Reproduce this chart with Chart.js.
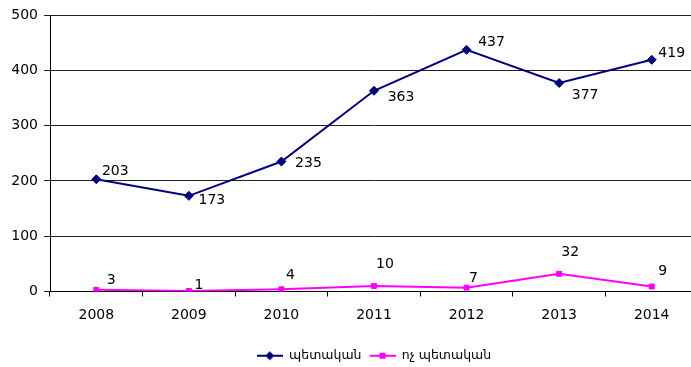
<!DOCTYPE html>
<html>
<head>
<meta charset="utf-8">
<script src="https://cdn.jsdelivr.net/npm/chart.js@4.4.1/dist/chart.umd.min.js"></script>
<style>
  html, body { margin: 0; padding: 0; background: #fff; overflow: hidden; }
  #wrap { width: 691px; height: 367px; overflow: hidden; position: relative; }
  #c { position: absolute; left: 0; top: 0; display: block; }
</style>
</head>
<body>
<!-- the plot runs on a few pixels past the right edge of the view -->
<div id="wrap"><canvas id="c" width="698" height="372"></canvas></div>
<script>
// Years on the horizontal axis
const years = ['2008', '2009', '2010', '2011', '2012', '2013', '2014'];
// Series names and values
const stateName = 'պետական';
const stateValues = [203, 173, 235, 363, 437, 377, 419];
const privateName = 'ոչ պետական';
const privateValues = [3, 1, 4, 10, 7, 32, 9];
// Vertical axis ticks
const yTicks = [0, 100, 200, 300, 400, 500];

// Where each value label sits relative to its point (dx, dy in px)
const stateLabelShift = [[19, -8], [23, 5], [27, 2], [27, 7], [25, -7], [26, 12], [20, -6]];
const privateLabelShift = [[15, -9], [10, -6], [9, -14], [11, -22], [7, -9], [11, -21], [11, -15]];

const FONT = '"DejaVu Sans", "Noto Sans", sans-serif';
const NAVY = '#000080';
const MAGENTA = '#FF00FF';

// Legend swatch: short line with the series marker in the middle
function swatch(color, shape) {
  const cv = document.createElement('canvas');
  cv.width = 26; cv.height = 10;
  const g = cv.getContext('2d');
  g.strokeStyle = color; g.lineWidth = 2;
  g.beginPath(); g.moveTo(0, 5); g.lineTo(26, 5); g.stroke();
  g.fillStyle = color;
  g.beginPath();
  if (shape === 'diamond') {
    g.moveTo(13, 0.5); g.lineTo(17.5, 5); g.lineTo(13, 9.5); g.lineTo(8.5, 5); g.closePath();
  } else {
    g.rect(10, 2, 6, 6);
  }
  g.fill();
  return cv;
}
const swatches = [swatch(NAVY, 'diamond'), swatch(MAGENTA, 'square')];

// Value labels next to each point
const valueLabels = {
  id: 'valueLabels',
  afterDatasetsDraw(chart) {
    const ctx = chart.ctx;
    const shifts = [stateLabelShift, privateLabelShift];
    ctx.save();
    ctx.font = '14px ' + FONT;
    ctx.fillStyle = '#000';
    ctx.textAlign = 'center';
    ctx.textBaseline = 'middle';
    chart.data.datasets.forEach((ds, di) => {
      const meta = chart.getDatasetMeta(di);
      meta.data.forEach((pt, i) => {
        const s = shifts[di][i];
        ctx.fillText(String(ds.data[i]), pt.x + s[0], pt.y + s[1]);
      });
    });
    ctx.restore();
  }
};

new Chart(document.getElementById('c'), {
  type: 'line',
  data: {
    labels: years,
    datasets: [
      {
        label: stateName,
        data: stateValues,
        borderColor: NAVY,
        backgroundColor: NAVY,
        borderWidth: 2,
        pointStyle: 'rectRot',
        pointRadius: 4.5,
        pointBorderWidth: 1,
        tension: 0
      },
      {
        label: privateName,
        data: privateValues,
        borderColor: MAGENTA,
        backgroundColor: MAGENTA,
        borderWidth: 2,
        pointStyle: 'rect',
        pointRadius: 3.5,
        pointBorderWidth: 1,
        tension: 0
      }
    ]
  },
  options: {
    responsive: false,
    animation: false,
    layout: { autoPadding: false, padding: { top: 15, right: 0, bottom: 0, left: 0 } },
    plugins: {
      tooltip: { enabled: false },
      legend: {
        position: 'bottom',
        fullSize: false,
        labels: {
          usePointStyle: true,
          pointStyleWidth: 26,
          boxHeight: 10,
          padding: 8,
          color: '#000',
          font: { family: FONT, size: 12.5 },
          generateLabels(chart) {
            const items = Chart.defaults.plugins.legend.labels.generateLabels(chart);
            items.forEach((it, i) => { it.pointStyle = swatches[i]; });
            return items;
          }
        }
      }
    },
    scales: {
      x: {
        offset: true,
        afterFit(scale) { scale.height = 50; },
        grid: {
          offset: true,
          drawOnChartArea: false,
          drawTicks: true,
          tickLength: 5,
          color: '#000'
        },
        border: { color: '#000', width: 1 },
        ticks: {
          color: '#000',
          font: { family: FONT, size: 14 },
          padding: 10,
          maxRotation: 0
        }
      },
      y: {
        min: 0,
        max: 500,
        afterFit(scale) { scale.width = 50; },
        afterBuildTicks(scale) { scale.ticks = yTicks.map(v => ({ value: v })); },
        grid: {
          color: '#222',
          tickLength: 6,
          lineWidth: 1
        },
        border: { color: '#000', width: 1 },
        ticks: {
          color: '#000',
          font: { family: FONT, size: 14 },
          padding: 6
        }
      }
    }
  },
  plugins: [valueLabels]
});
</script>
</body>
</html>
